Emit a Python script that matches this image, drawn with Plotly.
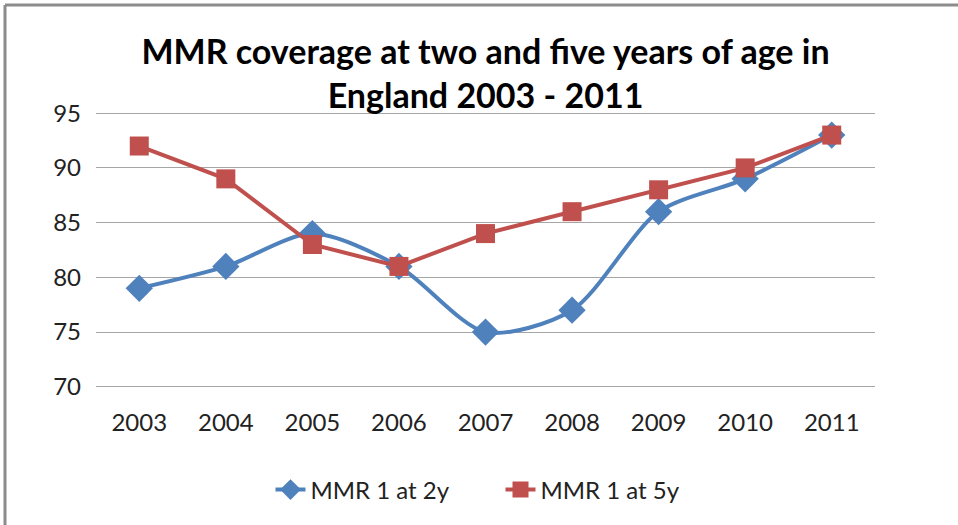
import plotly.graph_objects as go

years = ["2003", "2004", "2005", "2006", "2007", "2008", "2009", "2010", "2011"]
mmr_2y = [79, 81, 84, 81, 75, 77, 86, 89, 93]
mmr_5y = [92, 89, 83, 81, 84, 86, 88, 90, 93]
y_ticks = [70, 75, 80, 85, 90, 95]

BLUE = "#4F81BD"
RED = "#C0504D"
FONT = "Lato, Carlito, Calibri, sans-serif"

fig = go.Figure()
fig.add_trace(go.Scatter(
    x=years, y=mmr_2y, name="MMR 1 at 2y", mode="lines+markers",
    line=dict(color=BLUE, width=4, shape="spline", smoothing=0.8),
    marker=dict(symbol="diamond", size=21, color=BLUE),
))
fig.add_trace(go.Scatter(
    x=years, y=mmr_5y, name="MMR 1 at 5y", mode="lines+markers",
    line=dict(color=RED, width=4),
    marker=dict(symbol="square", size=19, color=RED),
))

W, H = 958, 525
L, R = 96, 83
pad = 0.2
T, B = 113 - round(pad * 10.96), (H - 387) - round(pad * 10.96)
pw, ph = W - L - R, H - T - B
bx = (5 - L) / pw
by = 1 + (T - 5) / ph

fig.update_layout(
    width=W, height=H,
    margin=dict(l=L, r=R, t=T, b=B),
    paper_bgcolor="white", plot_bgcolor="white",
    font=dict(family=FONT, size=24, color="#222"),
    title=dict(
        text="<b>MMR coverage at two and five years of age in<br>England 2003 - 2011</b>",
        x=0.5, xanchor="center", xref="paper", yref="container", y=1 - 64 / H, yanchor="middle",
        font=dict(family=FONT, size=34, color="black"),
    ),
    showlegend=True,
    legend=dict(orientation="h", x=0.5 + 15 / pw, xanchor="center",
                y=-(490 - (T + ph)) / ph, yanchor="middle",
                font=dict(size=24), traceorder="normal",
                entrywidth=185, entrywidthmode="pixels"),
    xaxis=dict(type="category", range=[-0.5, len(years) - 0.5], showgrid=False,
               showline=False, ticks="", tickfont=dict(size=24), zeroline=False,
               ticklabelstandoff=17),
    yaxis=dict(range=[70 - pad, 95 + pad], tickvals=y_ticks, showgrid=True,
               gridcolor="#A6A6A6", gridwidth=1, zeroline=False, showline=False,
               ticks="", tickfont=dict(size=24), ticklabelstandoff=14),
    shapes=[
        dict(type="line", xref="paper", yref="paper", x0=bx, x1=bx, y0=by, y1=-1,
             line=dict(color="#8C8C8C", width=3)),
        dict(type="line", xref="paper", yref="paper", x0=bx, x1=2, y0=by, y1=by,
             line=dict(color="#8C8C8C", width=3)),
    ],
)

fig.write_html("out.html")
